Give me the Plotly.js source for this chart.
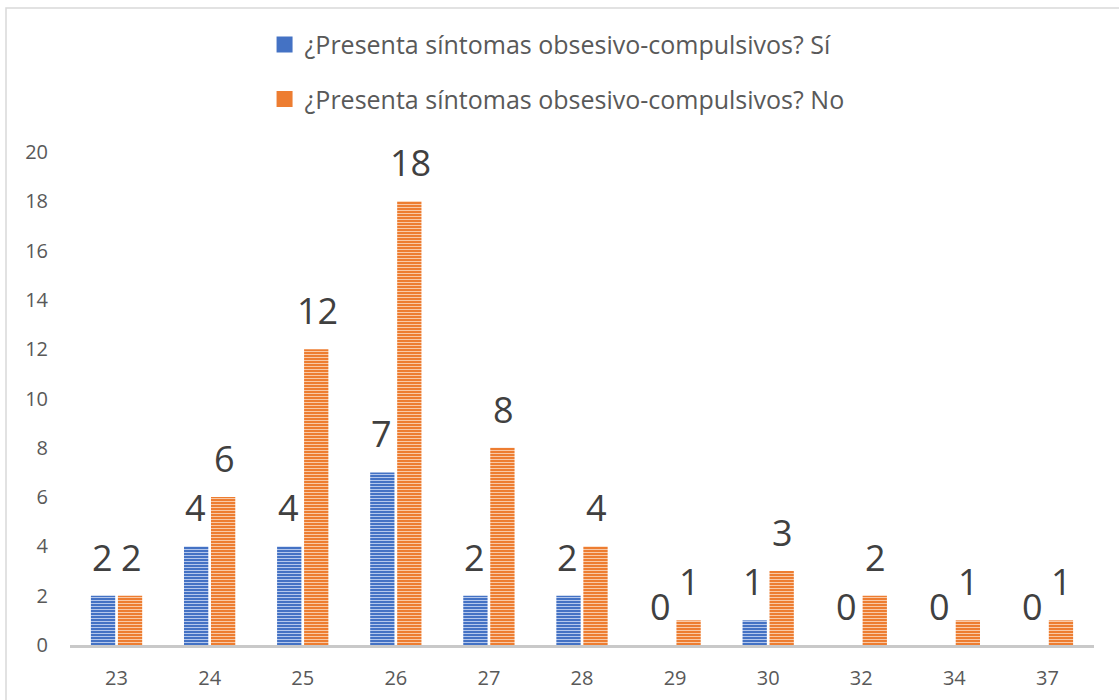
<!DOCTYPE html>
<html>
<head>
<meta charset="utf-8">
<script src="https://cdn.plot.ly/plotly-3.0.1.min.js"></script>
<style>
  html, body { margin: 0; padding: 0; background: #ffffff; }
  #chart { width: 1119px; height: 700px; }
</style>
</head>
<body>
<div id="chart"></div>
<script>
// Edades (categorías del eje X)
const ages = ['23', '24', '25', '26', '27', '28', '29', '30', '32', '34', '37'];

// Número de personas por edad, según presencia de síntomas
const withSymptoms    = [2, 4, 4, 7, 2, 2, 0, 1, 0, 0, 0];
const withoutSymptoms = [2, 6, 12, 18, 8, 4, 1, 3, 2, 1, 1];

const seriesNames = [
  '¿Presenta síntomas obsesivo-compulsivos? Sí',
  '¿Presenta síntomas obsesivo-compulsivos? No'
];

const yTicks = [0, 2, 4, 6, 8, 10, 12, 14, 16, 18, 20];

const FONT = '"Open Sans", Lato, sans-serif';
const BLUE = '#4472C4';
const ORANGE = '#ED7D31';

function stripedBar(values, color, light) {
  return {
    type: 'bar',
    x: ages,
    y: values,
    showlegend: false,
    marker: {
      color: color,
      line: { width: 0 },
      pattern: {
        shape: '-',
        fillmode: 'replace',
        bgcolor: color,
        fgcolor: light,
        size: 3,
        solidity: 0.35
      }
    },
    hoverinfo: 'x+y'
  };
}

// Entradas de leyenda (marcador cuadrado del color de cada serie)
function legendEntry(name, color, group) {
  return {
    type: 'scatter',
    mode: 'markers',
    name: name,
    x: [null],
    y: [null],
    legendgroup: group,
    marker: { symbol: 'square', size: 16, color: color },
    hoverinfo: 'skip'
  };
}

const traces = [
  stripedBar(withSymptoms, BLUE, '#b4c7ec'),
  stripedBar(withoutSymptoms, ORANGE, '#f9c9a6'),
  legendEntry(seriesNames[0], BLUE, 'si'),
  legendEntry(seriesNames[1], ORANGE, 'no')
];

// Etiquetas de valor sobre cada barra
const BAR_SHIFT = 14.5;
const annotations = [];
[withSymptoms, withoutSymptoms].forEach((vals, s) => {
  vals.forEach((v, i) => {
    annotations.push({
      x: i,
      y: v,
      xref: 'x',
      yref: 'y',
      text: String(v),
      showarrow: false,
      xanchor: 'center',
      yanchor: 'bottom',
      xshift: s === 0 ? -BAR_SHIFT : BAR_SHIFT,
      yshift: 12,
      font: { family: FONT, size: 36, color: '#404040' }
    });
  });
});

const layout = {
  width: 1119,
  height: 700,
  margin: { l: 70, r: 25, t: 152, b: 55 },
  paper_bgcolor: '#ffffff',
  plot_bgcolor: '#ffffff',
  font: { family: FONT, size: 20, color: '#595959' },
  barmode: 'group',
  bargap: 0.42,
  bargroupgap: 0.1,
  showlegend: true,
  legend: {
    orientation: 'v',
    x: 0.19,
    xanchor: 'left',
    y: 1.264,
    yanchor: 'top',
    tracegroupgap: 19,
    font: { family: FONT, size: 25, color: '#595959' },
    bgcolor: 'rgba(0,0,0,0)'
  },
  xaxis: {
    type: 'category',
    range: [-0.5, ages.length - 0.5],
    showgrid: false,
    zeroline: false,
    showline: true,
    linecolor: '#c9c9c9',
    linewidth: 3,
    ticks: '',
    ticklabelstandoff: 13,
    tickfont: { family: FONT, size: 20, color: '#595959' },
    fixedrange: true
  },
  yaxis: {
    range: [0, 20],
    tickvals: yTicks,
    ticktext: yTicks.map(String),
    showgrid: false,
    zeroline: false,
    showline: false,
    ticks: '',
    ticklabelstandoff: 21,
    tickfont: { family: FONT, size: 20, color: '#595959' },
    fixedrange: true
  },
  annotations: annotations,
  shapes: [
    {
      type: 'rect',
      xref: 'paper',
      yref: 'paper',
      x0: -64 / 1024,
      x1: 1.2,
      y0: -0.3,
      y1: 1 + 144 / 493,
      line: { color: '#d9d9d9', width: 1.5 },
      fillcolor: 'rgba(0,0,0,0)',
      layer: 'below'
    }
  ]
};

Plotly.newPlot('chart', traces, layout, { displayModeBar: false, staticPlot: true });
</script>
</body>
</html>
